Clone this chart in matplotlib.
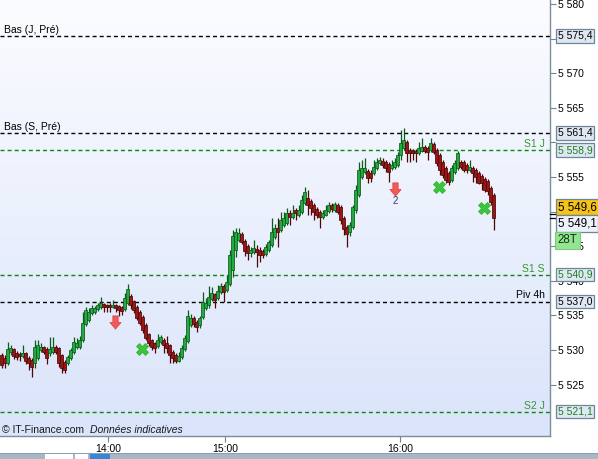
import numpy as np
import matplotlib
matplotlib.use('Agg')
import matplotlib.pyplot as plt
from matplotlib.path import Path
from matplotlib.colors import LinearSegmentedColormap
from matplotlib.patches import Rectangle

plt.rcParams['font.family'] = ['Liberation Sans', 'DejaVu Sans']
plt.rcParams['lines.scale_dashes'] = False

# ---------------- data (28-tick candles) ----------------
opens = [
    5529.3, 5528.8, 5528.1, 5529.7, 5530.1, 5529.6, 5529.4, 5529.1, 5529.6, 5528.8,
    5528.6, 5528.1, 5528.8, 5530.0, 5530.4, 5530.1, 5529.6, 5529.7, 5530.4, 5530.3,
    5529.3, 5528.3, 5528.1, 5528.8, 5529.7, 5530.4, 5530.4, 5531.5, 5533.8, 5534.3,
    5535.4, 5535.5, 5535.9, 5536.2, 5536.7, 5536.5, 5536.5, 5536.2, 5536.5, 5536.4,
    5536.2, 5535.9, 5536.8, 5537.8, 5537.1, 5536.2, 5535.5, 5534.8, 5533.6, 5532.3,
    5531.5, 5531.0, 5530.6, 5531.2, 5531.5, 5531.0, 5530.7, 5529.7, 5529.3, 5528.4,
    5529.0, 5530.1, 5531.3, 5533.6, 5534.6, 5534.1, 5533.6, 5534.8, 5536.1, 5536.5,
    5537.4, 5538.1, 5537.5, 5538.4, 5539.2, 5538.7, 5539.5, 5541.6, 5544.5, 5545.9,
    5546.8, 5545.7, 5545.0, 5544.0, 5544.2, 5544.6, 5544.5, 5544.3, 5543.9, 5544.5,
    5545.2, 5546.3, 5547.6, 5547.3, 5548.1, 5548.4, 5549.8, 5549.2, 5550.2, 5549.5,
    5550.0, 5551.2, 5552.0, 5551.5, 5551.0, 5550.4, 5550.0, 5549.2, 5549.5, 5550.1,
    5551.0, 5550.2, 5551.0, 5550.7, 5549.1, 5547.8, 5547.1, 5547.8, 5550.2, 5552.4,
    5555.0, 5555.7, 5555.9, 5555.6, 5555.6, 5556.3, 5557.0, 5557.3, 5557.2, 5556.9,
    5556.3, 5556.4, 5556.7, 5558.2, 5559.2, 5560.1, 5558.9, 5558.8, 5558.8, 5558.5,
    5558.8, 5559.3, 5559.2, 5558.9, 5559.8, 5558.9, 5558.2, 5557.2, 5556.3, 5555.6,
    5554.6, 5555.7, 5556.3, 5557.2, 5557.2, 5556.7, 5556.0, 5556.3, 5556.0, 5555.6,
    5555.2, 5554.7, 5554.4, 5553.4, 5552.4]

highs = [
    5529.6, 5529.3, 5531.2, 5530.7, 5530.3, 5529.9, 5529.7, 5530.7, 5529.7, 5529.1,
    5528.8, 5531.4, 5531.4, 5531.0, 5530.6, 5530.4, 5531.9, 5531.9, 5530.7, 5530.4,
    5529.4, 5528.6, 5529.3, 5530.3, 5531.9, 5531.7, 5532.0, 5535.5, 5536.2, 5536.1,
    5536.5, 5536.4, 5536.8, 5537.7, 5536.8, 5536.7, 5536.8, 5537.2, 5536.7, 5536.5,
    5536.4, 5538.2, 5539.5, 5538.1, 5537.2, 5536.5, 5535.8, 5535.1, 5533.9, 5532.5,
    5531.6, 5531.2, 5532.3, 5532.2, 5531.7, 5532.0, 5530.9, 5530.0, 5529.6, 5529.7,
    5530.7, 5532.2, 5535.8, 5535.2, 5534.9, 5534.3, 5534.9, 5538.4, 5537.5, 5539.2,
    5539.1, 5538.2, 5539.4, 5539.7, 5539.5, 5540.8, 5544.5, 5547.3, 5547.6, 5547.6,
    5547.1, 5546.0, 5545.3, 5544.9, 5545.9, 5545.2, 5544.9, 5544.6, 5545.3, 5545.9,
    5549.1, 5548.2, 5549.1, 5549.9, 5549.9, 5550.5, 5550.2, 5551.0, 5550.5, 5551.0,
    5552.4, 5553.5, 5553.1, 5551.8, 5551.2, 5550.7, 5550.2, 5550.2, 5551.0, 5551.4,
    5551.2, 5551.4, 5551.2, 5551.0, 5549.4, 5548.1, 5548.5, 5551.0, 5553.8, 5557.2,
    5557.5, 5557.7, 5556.2, 5556.0, 5557.5, 5557.7, 5557.9, 5557.7, 5557.5, 5557.2,
    5557.5, 5557.7, 5558.6, 5561.8, 5562.1, 5560.4, 5559.2, 5559.0, 5559.0, 5560.1,
    5560.6, 5559.6, 5559.5, 5560.6, 5560.1, 5559.2, 5558.5, 5557.5, 5556.6, 5555.9,
    5556.7, 5557.5, 5558.8, 5557.5, 5557.5, 5557.0, 5557.5, 5556.6, 5556.3, 5555.9,
    5555.4, 5555.0, 5554.7, 5553.7, 5552.7]

lows = [
    5527.4, 5527.4, 5527.8, 5529.3, 5528.7, 5528.6, 5528.4, 5528.8, 5528.0, 5527.1,
    5526.1, 5527.4, 5528.6, 5529.7, 5529.4, 5528.0, 5529.1, 5529.4, 5529.4, 5527.5,
    5526.7, 5526.7, 5527.8, 5528.6, 5529.4, 5530.1, 5530.1, 5531.2, 5533.5, 5534.0,
    5535.1, 5535.2, 5535.6, 5535.9, 5535.5, 5535.5, 5535.5, 5536.1, 5535.5, 5534.9,
    5535.1, 5535.6, 5536.5, 5535.9, 5535.4, 5534.3, 5533.6, 5532.5, 5531.5, 5530.6,
    5530.0, 5529.6, 5530.3, 5530.9, 5529.6, 5529.6, 5528.1, 5528.1, 5528.1, 5528.3,
    5528.7, 5529.9, 5531.0, 5533.3, 5533.3, 5532.6, 5533.2, 5534.5, 5535.8, 5536.1,
    5537.1, 5536.1, 5537.2, 5538.1, 5536.9, 5538.4, 5539.2, 5540.5, 5543.4, 5545.6,
    5545.3, 5543.6, 5543.0, 5543.4, 5543.9, 5542.0, 5542.7, 5543.3, 5543.6, 5544.2,
    5544.9, 5546.0, 5544.9, 5547.1, 5547.8, 5548.1, 5548.1, 5548.9, 5548.8, 5549.2,
    5549.7, 5550.9, 5549.5, 5549.5, 5548.8, 5549.1, 5547.6, 5548.9, 5549.4, 5549.8,
    5549.9, 5549.9, 5549.7, 5548.2, 5546.6, 5544.9, 5546.5, 5547.5, 5549.8, 5552.1,
    5554.7, 5555.4, 5554.1, 5554.3, 5555.3, 5556.0, 5556.7, 5556.3, 5555.7, 5554.3,
    5556.0, 5556.2, 5556.4, 5557.5, 5558.9, 5557.2, 5557.2, 5557.5, 5557.2, 5558.2,
    5558.6, 5558.5, 5557.5, 5558.6, 5558.3, 5556.6, 5555.3, 5554.9, 5554.1, 5553.8,
    5554.3, 5555.4, 5556.0, 5556.2, 5555.7, 5555.6, 5555.7, 5554.3, 5554.1, 5554.0,
    5553.1, 5552.8, 5552.4, 5550.9, 5547.3]

closes = [
    5527.8, 5528.1, 5530.1, 5530.3, 5529.1, 5529.0, 5529.1, 5529.6, 5528.4, 5528.1,
    5527.5, 5530.4, 5530.7, 5530.4, 5529.7, 5528.8, 5530.1, 5530.4, 5529.7, 5528.1,
    5527.4, 5527.1, 5529.0, 5530.0, 5531.2, 5531.0, 5531.5, 5533.9, 5535.8, 5535.5,
    5536.1, 5536.1, 5536.5, 5536.8, 5536.2, 5536.2, 5536.2, 5536.5, 5536.1, 5535.8,
    5535.6, 5537.5, 5538.8, 5536.5, 5535.8, 5534.6, 5533.9, 5532.9, 5531.7, 5531.0,
    5530.4, 5530.3, 5531.5, 5531.9, 5530.7, 5530.3, 5529.3, 5528.8, 5528.4, 5529.1,
    5530.3, 5531.7, 5534.9, 5534.6, 5533.8, 5533.3, 5534.6, 5536.9, 5536.8, 5537.7,
    5538.2, 5537.2, 5538.5, 5539.2, 5538.4, 5539.8, 5543.7, 5546.5, 5547.1, 5546.9,
    5545.6, 5544.3, 5544.0, 5544.5, 5544.7, 5544.2, 5543.7, 5543.7, 5544.9, 5545.6,
    5547.1, 5547.6, 5547.1, 5548.8, 5549.1, 5549.8, 5549.2, 5549.8, 5549.8, 5550.2,
    5551.7, 5552.8, 5551.0, 5550.5, 5550.0, 5549.5, 5549.2, 5549.8, 5550.2, 5551.0,
    5550.4, 5551.1, 5549.9, 5548.8, 5547.5, 5546.8, 5548.1, 5550.7, 5553.1, 5556.0,
    5556.3, 5556.3, 5554.9, 5554.9, 5556.4, 5557.2, 5557.5, 5556.7, 5556.3, 5555.7,
    5556.7, 5557.2, 5558.2, 5559.9, 5560.4, 5558.5, 5558.5, 5558.5, 5558.5, 5559.2,
    5559.3, 5558.8, 5558.6, 5559.9, 5558.6, 5557.0, 5556.0, 5555.3, 5554.6, 5554.3,
    5556.3, 5557.0, 5558.5, 5556.4, 5556.0, 5556.0, 5556.4, 5555.6, 5555.0, 5554.1,
    5554.1, 5553.1, 5553.0, 5551.4, 5549.1]

time_labels = ['14:00', '15:00', '16:00']
time_label_bars = [35.5, 74.5, 132.8]

level_values = [5575.4, 5561.4, 5558.9, 5540.9, 5537.0, 5521.1]
level_names = ['Bas (J, Pré)', 'Bas (S, Pré)', 'S1 J', 'S1 S', 'Piv 4h', 'S2 J']
level_kinds = ['black', 'black', 'green', 'green', 'black', 'green']
level_side = ['left', 'left', 'right', 'right', 'right', 'right']

last_price = 5549.6
close_price = 5549.1
bar_type = '28T'

sell_bars = [37.8, 131.2]
sell_prices = [5534.0, 5553.3]
sell_counts = ['', '2']
exit_bars = [46.8, 145.8, 160.8]
exit_prices = [5530.1, 5553.6, 5550.5]

y_ticks = [5525, 5530, 5535, 5540, 5545, 5550, 5555, 5560, 5565, 5570, 5575, 5580]
y_ticks_hidden = [5550, 5560, 5575]   # covered by price tags in the original

# ---------------- figure ----------------
W, H = 598, 459
fig = plt.figure(figsize=(W / 100, H / 100), dpi=100)
fig.patch.set_facecolor('white')
ax = fig.add_axes([0, 23 / H, 550 / W, 436 / H])

o = np.array(opens); h = np.array(highs); l = np.array(lows); c = np.array(closes)
x = np.arange(len(c))

# background gradient
grad = np.linspace(0, 1, 256).reshape(-1, 1)
cmap = LinearSegmentedColormap.from_list('bg', ['#fbfcff', '#dae4fa'])
ax.imshow(grad, extent=[0, 1, 0, 1], transform=ax.transAxes, cmap=cmap,
          aspect='auto', zorder=0, origin='upper')

# level lines
GREEN_LINE = '#0a8a0a'
GREEN_TXT = '#3c9632'
for v, name, kind, side in zip(level_values, level_names, level_kinds, level_side):
    lc = 'black' if kind == 'black' else GREEN_LINE
    ax.axhline(v, color=lc, lw=1.0, ls=(0, (2.9, 2.2)), zorder=1)
    tc = 'black' if kind == 'black' else GREEN_TXT
    if side == 'left':
        ax.annotate(name, xy=(0, v), xycoords=ax.get_yaxis_transform(),
                    xytext=(3, 2), textcoords='offset points', ha='left',
                    va='baseline', fontsize=7.5, color=tc, zorder=6)
    else:
        ax.annotate(name, xy=(545 / 550, v), xycoords=ax.get_yaxis_transform(),
                    xytext=(0, 2.2), textcoords='offset points', ha='right',
                    va='baseline', fontsize=7.5, color=tc, zorder=6)

# candles
up = c >= o
G_FILL, G_EDGE = '#24a840', '#0b5a1c'
R_FILL, R_EDGE = '#9a1616', '#4e0606'
edge_cols = np.where(up, G_EDGE, R_EDGE)
fill_cols = np.where(up, G_FILL, R_FILL)
ax.vlines(x, l, h, colors=edge_cols, lw=0.9, zorder=2)
body_b = np.minimum(o, c)
body_h = np.maximum(np.abs(c - o), 0.12)
ax.bar(x, body_h, bottom=body_b, width=0.88, color=fill_cols,
       edgecolor=edge_cols, linewidth=0.55, zorder=3)

# sell arrows
arrow = Path([(-0.2, 0.5), (0.2, 0.5), (0.2, 0.0), (0.42, 0.0), (0.0, -0.5),
              (-0.42, 0.0), (-0.2, 0.0), (-0.2, 0.5)],
             [Path.MOVETO] + [Path.LINETO] * 6 + [Path.CLOSEPOLY])
ax.plot(sell_bars, sell_prices, ls='none', marker=arrow, ms=9.5,
        mfc='#f25a5a', mec='#e04848', mew=0.6, zorder=5)
for xb, yp, t in zip(sell_bars, sell_prices, sell_counts):
    if t:
        ax.annotate(t, xy=(xb, yp), xytext=(0, -9), textcoords='offset points',
                    ha='center', va='center', fontsize=7, color='#3a3a78', zorder=6)

# exit crosses
ax.plot(exit_bars, exit_prices, ls='none', marker='X', ms=9,
        mfc='#3cc43c', mec='#30b030', mew=0.5, zorder=5)

ax.set_xlim(-0.5, 182.83)
ax.set_ylim(5517.57, 5580.58)

# axes styling
for s in ['left', 'top']:
    ax.spines[s].set_visible(False)
for s in ['right', 'bottom']:
    ax.spines[s].set_color('#7b8e9c')
    ax.spines[s].set_linewidth(1.0)

ax.yaxis.tick_right()
ax.set_yticks(y_ticks)
ax.set_yticklabels(['' if v in y_ticks_hidden else f'{v:,}'.replace(',', ' ')
                    for v in y_ticks])
ax.tick_params(axis='y', direction='out', length=4, width=0.8, color='#6d8494',
               pad=2, labelsize=7.5, labelcolor='black')
ax.set_xticks(time_label_bars)
ax.set_xticklabels(time_labels)
ax.tick_params(axis='x', direction='out', length=4, width=0.8, color='#6d8494',
               pad=2, labelsize=7.5, labelcolor='black')


def fr(v):
    return f'{v:,.1f}'.replace(',', ' ').replace('.', ',')


# price tags
def tag(price, text, fc, tc, dy=0.0, fs=7.5):
    ax.annotate(text, xy=(1, price), xycoords=ax.get_yaxis_transform(),
                xytext=(5.5, dy), textcoords='offset points', ha='left',
                va='center', fontsize=fs, color=tc, zorder=8,
                annotation_clip=False,
                bbox=dict(boxstyle='square,pad=0.18', fc=fc, ec='#6f8698', lw=0.9))


TAG_BG = '#dfe7f3'
for v, kind in zip(level_values, level_kinds):
    tag(v, fr(v), TAG_BG, 'black' if kind == 'black' else '#1f7f1f')
tag(last_price, fr(last_price), '#f6c416', 'black', dy=5.3, fs=8.3)
tag(close_price, fr(close_price), '#eef2fb', 'black', dy=-4.1, fs=8.3)
ax.annotate(bar_type, xy=(1, close_price), xycoords=ax.get_yaxis_transform(),
            xytext=(5.5, -16.2), textcoords='offset points', ha='left', va='center',
            fontsize=8.3, color='#103010', zorder=8, annotation_clip=False,
            bbox=dict(boxstyle='square,pad=0.22', fc='#92e592', ec='#7ccc7c', lw=0.8))
for v in [last_price, close_price]:
    ax.plot([1.0, 1.011], [v, v], transform=ax.get_yaxis_transform(),
            color='black', lw=0.9, clip_on=False, zorder=7)

# copyright
ax.text(2 / 550, 6 / 436, '© IT-Finance.com', transform=ax.transAxes,
        ha='left', va='center', fontsize=7.5, color='#1a1a1a', zorder=6)
ax.text(90 / 550, 6 / 436, 'Données indicatives', transform=ax.transAxes,
        ha='left', va='center', fontsize=7.5, style='italic', color='#1a1a1a', zorder=6)

# bottom toolbar strip
fig.patches.append(Rectangle((0, 0), 1, 5.5 / H, transform=fig.transFigure,
                             fc='#a6b8c5', ec='none', zorder=0))
fig.patches.append(Rectangle((0, 5.5 / H), 1, 0.8 / H, transform=fig.transFigure,
                             fc='#8b9fae', ec='none', zorder=0))
for x0, w0, col in [(45, 28, 'white'), (75, 13, 'white'), (90, 20, '#3a86d6')]:
    fig.patches.append(Rectangle((x0 / W, 0), w0 / W, 5 / H, transform=fig.transFigure,
                                 fc=col, ec='none', zorder=1))

fig.savefig('out.png', dpi=100)
